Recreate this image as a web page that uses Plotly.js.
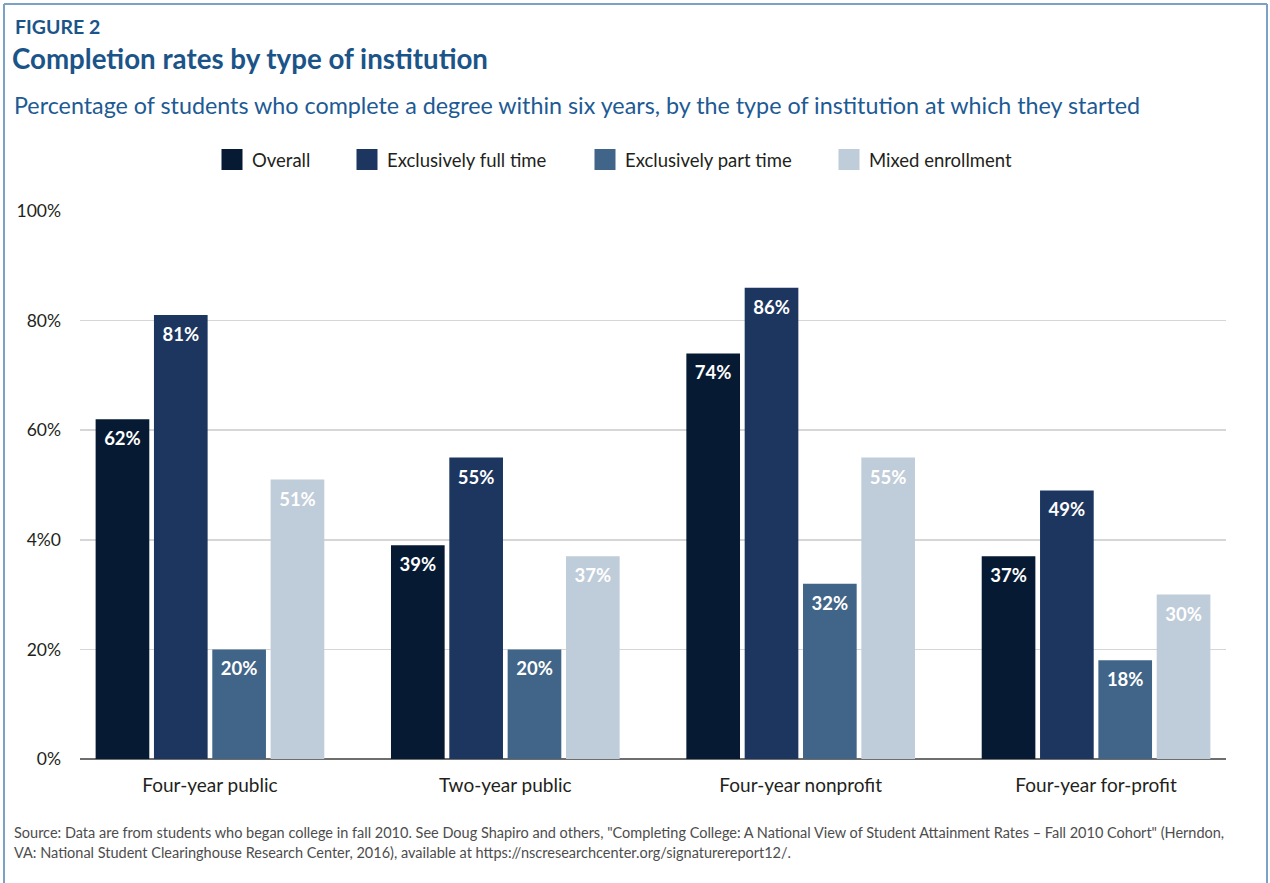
<!DOCTYPE html>
<html>
<head>
<meta charset="utf-8">
<script src="https://cdn.plot.ly/plotly-3.0.1.min.js"></script>
<style>html,body{margin:0;padding:0;background:#fff;}#chart{width:1270px;height:883px;}</style>
</head>
<body>
<div id="chart"></div>
<script>
const categories = ["Four-year public", "Two-year public", "Four-year nonprofit", "Four-year for-profit"];
const seriesNames = ["Overall", "Exclusively full time", "Exclusively part time", "Mixed enrollment"];
const overall = [62, 39, 74, 37];
const fullTime = [81, 55, 86, 49];
const partTime = [20, 20, 32, 18];
const mixed = [51, 37, 55, 30];
const yTickVals = [0, 20, 40, 60, 80, 100];
const yTickText = ["0%", "20%", "4%0", "60%", "80%", "100%"];
const colors = ["#061b33", "#1d3660", "#416588", "#bfccd9"];

const FONT = "Lato, 'Open Sans', sans-serif";
const seriesValues = [overall, fullTime, partTime, mixed];
const legendIds = ["legend", "legend2", "legend3", "legend4"];

const traces = [];
seriesValues.forEach((vals, i) => {
  traces.push({
    type: "bar",
    x: categories,
    y: vals,
    name: seriesNames[i],
    showlegend: false,
    marker: {color: colors[i]},
    text: vals.map(v => v + "%"),
    textposition: "inside",
    insidetextanchor: "end",
    textangle: 0,
    constraintext: "none",
    textfont: {family: FONT, size: 18.5, color: "#ffffff", weight: "bold"},
    hoverinfo: "skip"
  });
});
seriesValues.forEach((vals, i) => {
  traces.push({
    type: "scatter",
    mode: "markers",
    x: [null],
    y: [null],
    name: seriesNames[i],
    legend: legendIds[i],
    showlegend: true,
    marker: {symbol: "square", size: 16, color: colors[i], line: {color: colors[i], width: 5}},
    hoverinfo: "skip"
  });
});

const L = 80, R = 1226, T = 211, B = 759;
const px2x = p => (p - L) / (R - L);
const px2y = p => (B - p) / (B - T);

const legendLefts = [222, 357, 595, 839];
const legendFont = {family: FONT, size: 18.5, color: "#231f20"};
const layout = {
  width: 1270,
  height: 883,
  paper_bgcolor: "#ffffff",
  plot_bgcolor: "#ffffff",
  margin: {l: L, r: 1270 - R, t: T, b: 883 - B, pad: 0},
  font: {family: FONT, color: "#231f20"},
  barmode: "group",
  bargap: 0.21,
  bargroupgap: 0.08,
  title: {
    text: "Completion rates by type of institution",
    font: {family: FONT, size: 27.7, color: "#1b5488", weight: "bold"},
    x: 12 / 1270, xanchor: "left", xref: "container",
    y: 1 - 59 / 883, yanchor: "middle", yref: "container"
  },
  xaxis: {
    type: "category",
    range: [-0.44, 3.44],
    showgrid: false,
    zeroline: false,
    showline: false,
    ticks: "",
    tickfont: {family: FONT, size: 19, color: "#231f20"},
    ticklabelstandoff: 13,
    fixedrange: true
  },
  yaxis: {
    range: [0, 100],
    tickvals: yTickVals,
    ticktext: yTickText,
    showgrid: true,
    gridcolor: "#d6d6d6",
    gridwidth: 1.5,
    zeroline: true,
    zerolinecolor: "#6e6e6e",
    zerolinewidth: 2.5,
    showline: false,
    ticks: "",
    tickfont: {family: FONT, size: 17.5, color: "#231f20"},
    ticklabelstandoff: 18,
    fixedrange: true
  },
  annotations: [
    {text: "FIGURE 2", xref: "paper", yref: "paper", x: px2x(13), y: px2y(26), xanchor: "left", yanchor: "middle",
     showarrow: false, font: {family: FONT, size: 19.5, color: "#1b5488", weight: "bold"}},
    {text: "Percentage of students who complete a degree within six years, by the type of institution at which they started",
     xref: "paper", yref: "paper", x: px2x(12), y: px2y(105), xanchor: "left", yanchor: "middle",
     showarrow: false, font: {family: FONT, size: 23.3, color: "#1d5a94"}},
    {text: "Source: Data are from students who began college in fall 2010. See Doug Shapiro and others, \"Completing College: A National View of Student Attainment Rates – Fall 2010 Cohort\" (Herndon,",
     xref: "paper", yref: "paper", x: px2x(12), y: px2y(832), xanchor: "left", yanchor: "middle",
     showarrow: false, font: {family: FONT, size: 14.5, color: "#4d4d4d"}},
    {text: "VA: National Student Clearinghouse Research Center, 2016), available at https://nscresearchcenter.org/signaturereport12/.",
     xref: "paper", yref: "paper", x: px2x(12), y: px2y(852), xanchor: "left", yanchor: "middle",
     showarrow: false, font: {family: FONT, size: 14.5, color: "#4d4d4d"}}
  ],
  shapes: [
    {type: "line", xref: "paper", yref: "paper", x0: px2x(4), x1: px2x(1267), y0: px2y(4), y1: px2y(4), line: {color: "#7ba1c4", width: 2}},
    {type: "line", xref: "paper", yref: "paper", x0: px2x(4), x1: px2x(4), y0: px2y(4), y1: px2y(900), line: {color: "#7ba1c4", width: 2}},
    {type: "line", xref: "paper", yref: "paper", x0: px2x(1267), x1: px2x(1267), y0: px2y(4), y1: px2y(900), line: {color: "#7ba1c4", width: 2}}
  ]
};
legendIds.forEach((id, i) => {
  layout[id] = {
    orientation: "h",
    xref: "paper", yref: "paper",
    x: px2x(legendLefts[i] - 10), xanchor: "left",
    y: px2y(160), yanchor: "middle",
    bgcolor: "rgba(0,0,0,0)",
    borderwidth: 0,
    font: legendFont,
    itemclick: false, itemdoubleclick: false
  };
});

Plotly.newPlot("chart", traces, layout, {displayModeBar: false, staticPlot: true}).then(gd => {
  // nudge in-bar value labels a little further below the bar top, as in the reference
  gd.querySelectorAll("text.bartext").forEach(t => {
    const y = parseFloat(t.getAttribute("y") || "0");
    t.setAttribute("y", String(y + 5));
  });
});
</script>
</body>
</html>
